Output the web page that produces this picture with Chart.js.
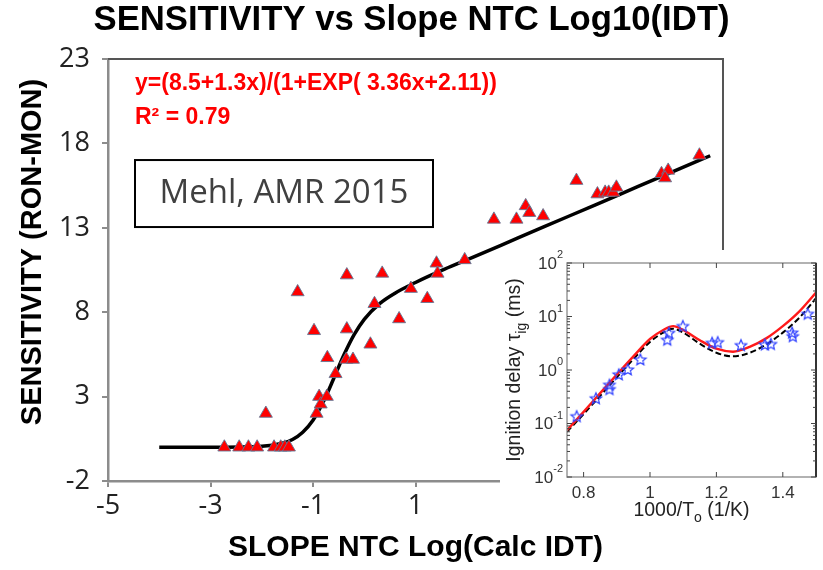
<!DOCTYPE html>
<html>
<head>
<meta charset="utf-8">
<script src="https://cdn.jsdelivr.net/npm/chart.js@4.4.1/dist/chart.umd.min.js"></script>
<style>
  body { margin: 0; background: #fff; }
  #wrap { position: relative; width: 823px; height: 570px; }
  #main { position: absolute; left: 0; top: 0; }
  #inset { position: absolute; left: 500px; top: 250px; background: #fff; }
</style>
</head>
<body>
<div id="wrap">
  <canvas id="main" width="823" height="570"></canvas>
  <canvas id="inset" width="323" height="285"></canvas>
</div>
<script>
// main plot: sensitivity vs NTC slope
const slopeX = [-2.73, -2.44, -2.26, -2.09, -1.76, -1.63, -1.55, -1.47,
  -1.92, -1.30, -0.98, -0.93, -0.88, -0.85, -0.73, -0.72, -0.56, -0.34,
  -0.34, -0.35, -0.22, 0.12, 0.20, 0.35, 0.68, 0.91, 1.23, 1.41,
  1.43, 1.96, 2.53, 2.97, 3.15, 3.22, 3.49, 4.14, 4.55, 4.70,
  4.77, 4.86, 4.92, 5.80, 5.93, 5.87, 6.54];
const sensY = [0, 0, 0, 0, 0, 0, 0, 0,
  2.0, 9.2, 6.9, 2.0, 3.0, 2.55, 3.0, 5.3, 4.35, 10.2,
  7.0, 5.2, 5.2, 6.1, 8.5, 10.3, 7.6, 9.4, 8.8, 10.9,
  10.3, 11.1, 13.5, 13.5, 14.3, 13.9, 13.7, 15.8, 15.0, 15.1,
  15.1, 15.1, 15.4, 16.2, 16.4, 15.95, 17.3];

// fitted curve as drawn
const fitX = [-4, -3, -2, -1.6, -1.4, -1.2, -1.0, -0.8, -0.6, -0.4, -0.2, 0, 0.3, 0.6, 1.0, 1.5, 2, 3, 4, 5, 6, 6.75];
const fitY = [0, 0, 0.06, 0.24, 0.46, 0.89, 1.6, 2.68, 4.04, 5.45, 6.66, 7.58, 8.51, 9.13, 9.76, 10.46, 11.1, 12.4, 13.7, 15.0, 16.3, 17.27];

const mainXTicks = [-5, -3, -1, 1, 3, 5, 7];
const mainYTicks = [-2, 3, 8, 13, 18, 23];

// inset: ignition delay vs 1000/T
const invT = [0.75, 0.80, 0.85, 0.90, 0.95, 1.00, 1.04, 1.07, 1.10, 1.15, 1.20, 1.25, 1.30, 1.35, 1.40, 1.45, 1.50];
const tauRed = [0.075, 0.165, 0.37, 0.82, 1.8, 3.8, 5.6, 6.6, 5.6, 3.6, 2.5, 2.2, 2.7, 3.9, 6.6, 12.5, 28];
const tauBlack = [0.07, 0.15, 0.33, 0.73, 1.6, 3.35, 5.0, 5.9, 5.0, 3.1, 2.1, 1.8, 2.1, 3.0, 5.0, 9.5, 22];
const expInvT = [0.779, 0.837, 0.878, 0.878, 0.906, 0.933, 0.971, 1.052, 1.057, 1.099, 1.187, 1.204, 1.274, 1.346, 1.364, 1.428, 1.430, 1.475];
const expTau = [0.134, 0.29, 0.52, 0.43, 0.81, 1.0, 1.54, 3.6, 4.85, 6.5, 3.16, 3.24, 2.85, 2.93, 3.0, 4.9, 4.2, 11];
const insetXTicks = [0.8, 1, 1.2, 1.4];
const insetDecades = [-2, -1, 0, 1, 2];

const toPts = (xs, ys) => xs.map((x, i) => ({ x: x, y: ys[i] }));
const SANS = '"Liberation Sans", Arial, sans-serif';

const mainDecor = {
  id: 'mainDecor',
  afterDraw(chart) {
    const { ctx, chartArea: a } = chart;
    ctx.save();
    ctx.strokeStyle = '#555';
    ctx.lineWidth = 2;
    ctx.beginPath();
    ctx.moveTo(a.left, a.top);
    ctx.lineTo(a.right, a.top);
    ctx.lineTo(a.right, a.bottom);
    ctx.stroke();

    // y axis title, sits a little above the axis centre in the original
    ctx.save();
    ctx.translate(33, 252);
    ctx.rotate(-Math.PI / 2);
    ctx.fillStyle = '#000';
    ctx.font = 'bold 29px ' + SANS;
    ctx.textAlign = 'center';
    ctx.textBaseline = 'middle';
    ctx.fillText('SENSITIVITY (RON-MON)', 0, 0);
    ctx.restore();

    ctx.fillStyle = '#ff0000';
    ctx.font = 'bold 23px ' + SANS;
    ctx.textBaseline = 'middle';
    ctx.fillText('y=(8.5+1.3x)/(1+EXP( 3.36x+2.11))', a.left + 27, a.top + 25);
    ctx.fillText('R² = 0.79', a.left + 27, a.top + 59);

    ctx.strokeStyle = '#000';
    ctx.lineWidth = 2;
    ctx.strokeRect(a.left + 27, a.top + 101, 298, 67);
    ctx.fillStyle = '#404040';
    ctx.font = '33px "Open Sans", sans-serif';
    ctx.textAlign = 'center';
    ctx.fillText('Mehl, AMR 2015', a.left + 27 + 149, a.top + 135);
    ctx.restore();
  }
};

new Chart(document.getElementById('main'), {
  type: 'scatter',
  data: {
    datasets: [
      {
        label: 'Data',
        data: toPts(slopeX, sensY),
        pointStyle: 'triangle',
        pointRadius: 7.5,
        backgroundColor: '#ff0000',
        borderColor: 'rgba(100,120,150,0.9)',
        borderWidth: 1
      },
      {
        label: 'Fit',
        data: toPts(fitX, fitY),
        showLine: true,
        pointRadius: 0,
        borderColor: '#000',
        borderWidth: 3.5,
        cubicInterpolationMode: 'monotone'
      }
    ]
  },
  options: {
    responsive: false,
    devicePixelRatio: 1,
    animation: false,
    plugins: {
      legend: { display: false },
      tooltip: { enabled: false },
      title: {
        display: true,
        text: 'SENSITIVITY vs Slope NTC Log10(IDT)',
        color: '#000',
        font: { family: SANS, size: 34.7, weight: 'bold', lineHeight: 1.2 },
        padding: { top: 0, bottom: 17.4 }
      }
    },
    scales: {
      x: {
        type: 'linear',
        min: -5,
        max: 7,
        afterBuildTicks: s => { s.ticks = mainXTicks.map(v => ({ value: v })); },
        afterFit: s => { s.height = 89; },
        grid: { drawOnChartArea: false, drawTicks: true, tickLength: 6, color: '#8c8c8c', lineWidth: 2 },
        border: { color: '#8c8c8c', width: 2.5 },
        ticks: { color: '#222', padding: 3, font: { family: '"Open Sans", sans-serif', size: 27 } },
        title: {
          display: true,
          text: 'SLOPE NTC Log(Calc IDT)',
          color: '#000',
          font: { family: SANS, size: 30, weight: 'bold' },
          padding: { top: 0, bottom: 4 }
        }
      },
      y: {
        type: 'linear',
        min: -2,
        max: 23,
        afterBuildTicks: s => { s.ticks = mainYTicks.map(v => ({ value: v })); },
        afterFit: s => { s.width = 108; },
        grid: { drawOnChartArea: false, drawTicks: true, tickLength: 6, color: '#8c8c8c', lineWidth: 2 },
        border: { color: '#8c8c8c', width: 2.5 },
        ticks: { color: '#222', padding: 12, font: { family: '"Open Sans", sans-serif', size: 27 } }
      },
      // empty right-hand axis that only reserves room next to the plot
      yRoom: {
        type: 'linear',
        position: 'right',
        afterFit: s => { s.width = 100; },
        grid: { display: false, drawTicks: false },
        border: { display: false },
        ticks: { display: false }
      }
    }
  },
  plugins: [mainDecor]
});

// five-pointed outline star for the measured points
function makeStar(r, color) {
  const c = document.createElement('canvas');
  c.width = c.height = 2 * r + 4;
  const g = c.getContext('2d');
  g.translate(r + 2, r + 2);
  g.beginPath();
  for (let i = 0; i < 10; i++) {
    const rad = i % 2 === 0 ? r : r * 0.45;
    const ang = -Math.PI / 2 + i * Math.PI / 5;
    g.lineTo(rad * Math.cos(ang), rad * Math.sin(ang));
  }
  g.closePath();
  g.strokeStyle = color;
  g.lineWidth = 1.2;
  g.stroke();
  return c;
}

// text with subscripted parts, centred on (0,0)
function drawRich(ctx, parts, size) {
  let total = 0;
  const widths = parts.map(p => {
    ctx.font = (p[1] ? size * 0.72 : size) + 'px ' + SANS;
    const w = ctx.measureText(p[0]).width;
    total += w;
    return w;
  });
  let x = -total / 2;
  ctx.textAlign = 'left';
  ctx.textBaseline = 'middle';
  parts.forEach((p, i) => {
    ctx.font = (p[1] ? size * 0.72 : size) + 'px ' + SANS;
    ctx.fillText(p[0], x, p[1] ? size * 0.38 : 0);
    x += widths[i];
  });
}

const insetDecor = {
  id: 'insetDecor',
  beforeDraw(chart) {
    const ctx = chart.ctx;
    ctx.save();
    ctx.fillStyle = '#fff';
    ctx.fillRect(0, 0, chart.width, chart.height);
    ctx.restore();
  },
  afterDraw(chart) {
    const { ctx, chartArea: a, scales } = chart;
    const xs = scales.x, ys = scales.y;
    ctx.save();
    ctx.strokeStyle = '#999';
    ctx.lineWidth = 1.5;
    ctx.strokeRect(a.left, a.top, a.right - a.left, a.bottom - a.top);
    ctx.strokeStyle = '#333';
    ctx.lineWidth = 2;
    ctx.beginPath();
    ctx.moveTo(a.right, a.top);
    ctx.lineTo(a.right, a.bottom);
    ctx.stroke();

    // inward ticks
    ctx.strokeStyle = '#444';
    ctx.lineWidth = 1;
    ctx.beginPath();
    insetXTicks.forEach(v => {
      const px = xs.getPixelForValue(v);
      ctx.moveTo(px, a.bottom); ctx.lineTo(px, a.bottom - 5);
      ctx.moveTo(px, a.top); ctx.lineTo(px, a.top + 5);
    });
    insetDecades.forEach(e => {
      for (let k = 1; k < 10; k++) {
        const v = k * Math.pow(10, e);
        if (v > 100) break;
        const py = ys.getPixelForValue(v);
        const len = k === 1 ? 5 : 3;
        ctx.moveTo(a.left, py); ctx.lineTo(a.left + len, py);
        ctx.moveTo(a.right, py); ctx.lineTo(a.right - len, py);
      }
    });
    ctx.stroke();

    // y tick labels 10^n
    ctx.fillStyle = '#333';
    ctx.textBaseline = 'middle';
    ctx.textAlign = 'right';
    insetDecades.forEach(e => {
      const py = ys.getPixelForValue(Math.pow(10, e));
      const ex = String(e);
      ctx.font = '11px ' + SANS;
      const ew = ctx.measureText(ex).width;
      ctx.fillText(ex, a.left - 4, py - 8);
      ctx.font = '17px ' + SANS;
      ctx.fillText('10', a.left - 4 - ew, py + 1);
    });

    // axis titles
    ctx.fillStyle = '#222';
    ctx.save();
    ctx.translate((a.left + a.right) / 2, a.bottom + 34);
    drawRich(ctx, [['1000/T', false], ['o', true], [' (1/K)', false]], 19.5);
    ctx.restore();
    ctx.save();
    ctx.translate(15, (a.top + a.bottom) / 2);
    ctx.rotate(-Math.PI / 2);
    drawRich(ctx, [['Ignition delay \u03c4', false], ['ig', true], [' (ms)', false]], 19.5);
    ctx.restore();
    ctx.restore();
  }
};

new Chart(document.getElementById('inset'), {
  type: 'scatter',
  data: {
    datasets: [
      {
        label: 'Experiment',
        data: toPts(expInvT, expTau),
        pointStyle: makeStar(6, '#3344ff'),
        pointRadius: 6
      },
      {
        label: 'Model A',
        data: toPts(invT, tauRed),
        showLine: true,
        pointRadius: 0,
        borderColor: '#ff1a1a',
        borderWidth: 2.4,
        cubicInterpolationMode: 'monotone'
      },
      {
        label: 'Model B',
        data: toPts(invT, tauBlack),
        showLine: true,
        pointRadius: 0,
        borderColor: '#000',
        borderWidth: 2,
        borderDash: [6, 3],
        cubicInterpolationMode: 'monotone'
      }
    ]
  },
  options: {
    responsive: false,
    devicePixelRatio: 1,
    animation: false,
    layout: { padding: { top: 13, right: 4 } },
    plugins: { legend: { display: false }, tooltip: { enabled: false } },
    scales: {
      x: {
        type: 'linear',
        min: 0.75,
        max: 1.5,
        afterBuildTicks: s => { s.ticks = insetXTicks.map(v => ({ value: v })); },
        afterFit: s => { s.height = 58; },
        grid: { display: false, drawTicks: false },
        border: { display: false },
        ticks: { color: '#333', padding: 6, font: { family: SANS, size: 17 }, callback: v => String(v) }
      },
      y: {
        type: 'logarithmic',
        min: 0.01,
        max: 100,
        afterFit: s => { s.width = 67; },
        grid: { display: false, drawTicks: false },
        border: { display: false },
        ticks: { display: false }
      }
    }
  },
  plugins: [insetDecor]
});
</script>
</body>
</html>
